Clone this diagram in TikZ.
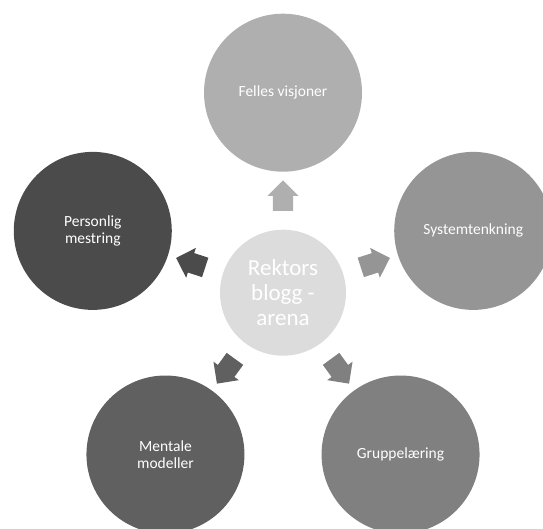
\documentclass[tikz,border=0pt]{standalone}
\usepackage{fontspec}
\setmainfont{Carlito}
\usetikzlibrary{shapes.arrows,calc}
\definecolor{cTop}{HTML}{AFAFAF}
\definecolor{cRight}{HTML}{959595}
\definecolor{cBR}{HTML}{808080}
\definecolor{cBL}{HTML}{606060}
\definecolor{cLeft}{HTML}{4B4B4B}
\definecolor{cCenter}{HTML}{DCDCDC}
\tikzset{
  outer/.style={circle, minimum size=158pt, inner sep=0pt, text=white, align=center,
    font=\fontsize{15.5}{17.5}\selectfont},
  hub/.style={circle, minimum size=126pt, inner sep=0pt, fill=cCenter, text=white, align=center,
    font=\fontsize{23}{25}\selectfont},
  radarrow/.style={single arrow, draw=none, minimum height=28pt, inner sep=10pt,
    single arrow head extend=5.5pt, single arrow tip angle=90},
}
\begin{document}
\begin{tikzpicture}[x=1pt,y=1pt]
\useasboundingbox (0,0) rectangle (543,528);
\coordinate (c) at (283,235.3);
\node[hub] (hub) at (c) {Rektors\\blogg -\\arena};
\node[outer, fill=cTop] (top) at ($(c)+(90:200)$) {Felles visjoner};
\node[outer, fill=cRight] (right) at ($(c)+(18:200)$) {Systemtenkning};
\node[outer, fill=cBR] (br) at ($(c)+(-54:200)$) {Gruppelæring};
\node[outer, fill=cBL] (bl) at ($(c)+(-126:200)$) {Mentale\\modeller};
\node[outer, fill=cLeft] (left) at ($(c)+(162:200)$) {Personlig\\mestring};
\node[radarrow, fill=cTop, rotate=90] (a1) at ($(c)+(90:92)$) {};
\node[radarrow, fill=cRight, rotate=18] (a2) at ($(c)+(18:92)$) {};
\node[radarrow, fill=cBR, rotate=-54] (a3) at ($(c)+(-54:92)$) {};
\node[radarrow, fill=cBL, rotate=-126] (a4) at ($(c)+(-126:92)$) {};
\node[radarrow, fill=cLeft, rotate=162] (a5) at ($(c)+(162:92)$) {};
\end{tikzpicture}
\end{document}
